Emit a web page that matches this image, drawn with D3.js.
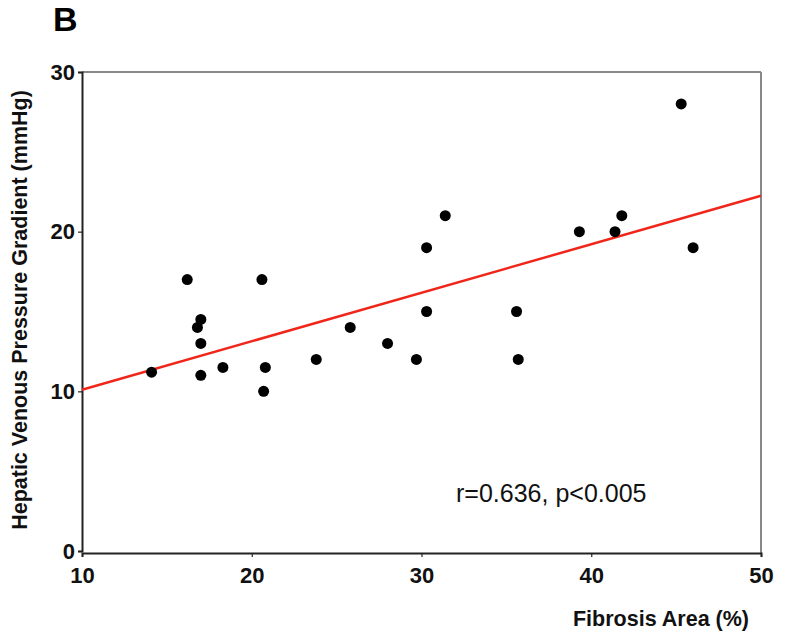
<!DOCTYPE html>
<html lang="en">
<head>
<meta charset="UTF-8">
<title>Fibrosis vs HVPG</title>
<script src="https://cdn.jsdelivr.net/npm/d3@7"></script>
<style>
  body { margin: 0; background: #fff; }
  text { font-family: "Liberation Sans", Arial, sans-serif; }
</style>
</head>
<body>
<svg id="chart" width="800" height="639"></svg>
<script>
// data
const fibrosis = [14.1, 16.2, 16.8, 17.0, 17.0, 17.0, 18.3, 20.6, 20.7, 20.8, 23.8, 25.8,
                  28.0, 29.7, 30.3, 30.3, 31.4, 35.6, 35.7, 39.3, 41.4, 41.8, 45.3, 46.0]
const hvpg = [11.2, 17, 14, 14.5, 13, 11, 11.5, 17, 10, 11.5, 12, 14,
              13, 12, 15, 19, 21, 15, 12, 20, 20, 21, 28, 19]
const fitX = [10, 50]
const fitY = [10.1, 22.25]
const xTicks = [10, 20, 30, 40, 50]
const yTicks = [0, 10, 20, 30]

const svg = d3.select('#chart')
const plotL = 82, plotR = 761, plotT = 72, plotB = 551

const x = d3.scaleLinear().domain([10, 50]).range([plotL, plotR])
const y = d3.scaleLinear().domain([0, 30]).range([plotB, plotT])

// frame: top and right in grey
svg.append('line').attr('x1', plotL).attr('x2', plotR).attr('y1', plotT).attr('y2', plotT)
    .attr('stroke', '#888').attr('stroke-width', 2)
svg.append('line').attr('x1', plotR).attr('x2', plotR).attr('y1', plotT).attr('y2', plotB + 2)
    .attr('stroke', '#888').attr('stroke-width', 2)

const xAxis = svg.append('g')
    .attr('transform', `translate(0,${plotB + 2})`)
    .call(d3.axisBottom(x).tickValues(xTicks).tickSize(4).tickPadding(10))
const yAxis = svg.append('g')
    .attr('transform', `translate(${plotL},0)`)
    .call(d3.axisLeft(y).tickValues(yTicks).tickSize(4).tickPadding(3))

for (const ax of [xAxis, yAxis]) {
    ax.select('.domain').attr('stroke', '#222').attr('stroke-width', 2)
    ax.selectAll('.tick line').attr('stroke', '#222').attr('stroke-width', 1.2)
    ax.selectAll('.tick text')
        .attr('fill', '#111')
        .style('font-size', '22px')
        .style('font-weight', 'bold')
        .style('font-family', '"Liberation Sans", Arial, sans-serif')
}

// regression line
svg.append('line')
    .attr('x1', x(fitX[0])).attr('y1', y(fitY[0]))
    .attr('x2', x(fitX[1])).attr('y2', y(fitY[1]))
    .attr('stroke', '#f0261b').attr('stroke-width', 2.5)

// points
svg.selectAll('circle.pt')
    .data(fibrosis.map((d, i) => [d, hvpg[i]]))
    .join('circle')
    .attr('class', 'pt')
    .attr('cx', d => x(d[0]))
    .attr('cy', d => y(d[1]))
    .attr('r', 5.5)
    .attr('fill', '#000')

// texts
svg.append('text').attr('x', 53).attr('y', 31)
    .style('font-size', '34px').style('font-weight', 'bold').text('B')

svg.append('text')
    .attr('transform', `translate(27,310) rotate(-90)`)
    .attr('text-anchor', 'middle')
    .style('font-size', '21.5px').style('font-weight', 'bold').attr('fill', '#111')
    .text('Hepatic Venous Pressure Gradient (mmHg)')

svg.append('text').attr('x', 661).attr('y', 626)
    .attr('text-anchor', 'middle')
    .style('font-size', '21.5px').style('font-weight', 'bold').attr('fill', '#111')
    .text('Fibrosis Area (%)')

svg.append('text').attr('x', 456).attr('y', 502)
    .style('font-size', '25px').attr('fill', '#111')
    .text('r=0.636, p<0.005')
</script>
</body>
</html>
